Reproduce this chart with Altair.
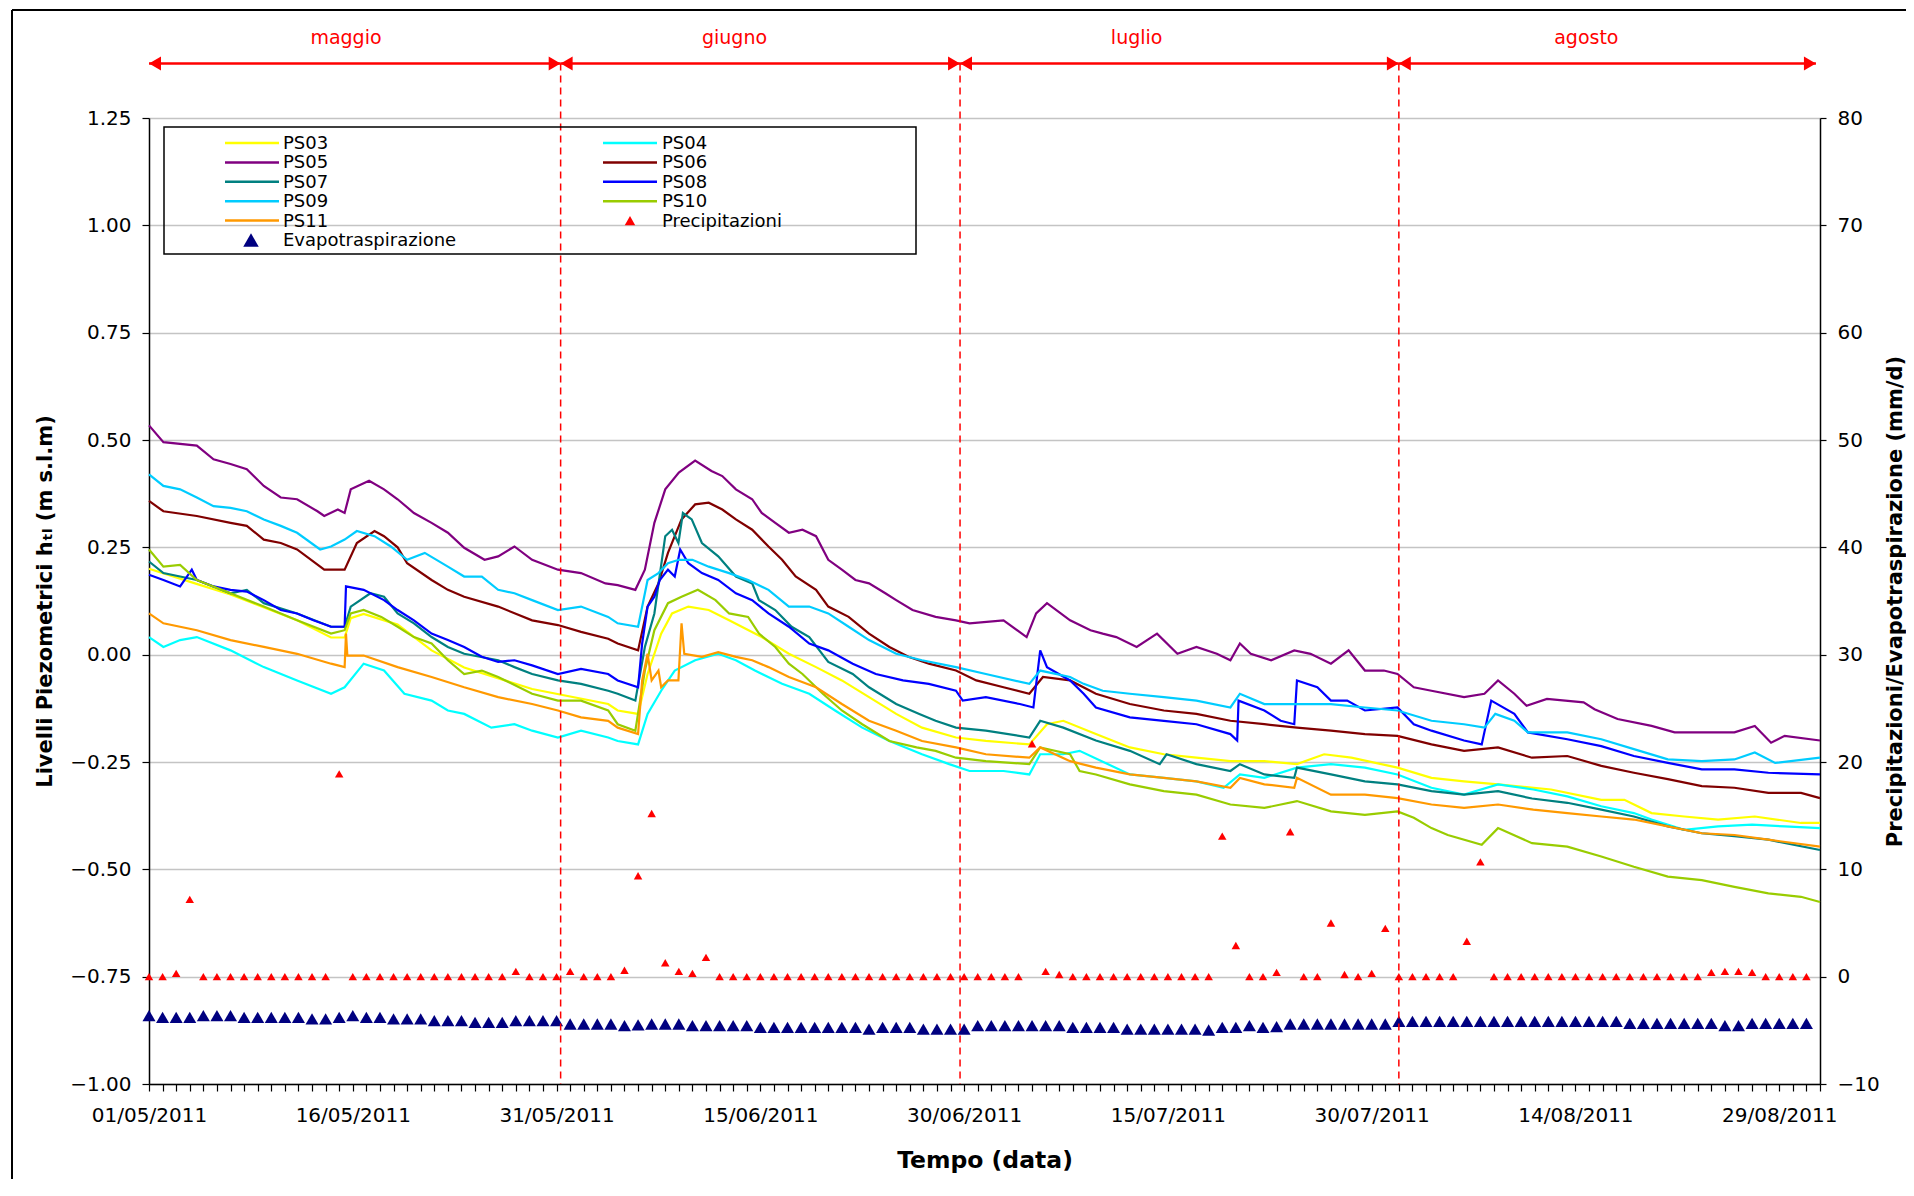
import altair as alt
import pandas as pd

DAY_MS = 86400000
T0_MS = int(pd.Timestamp("2011-05-01", tz="UTC").value // 1_000_000)
N_DAYS = 123

SERIES = ["PS03", "PS04", "PS05", "PS06", "PS07", "PS08", "PS09", "PS10", "PS11"]
COLORS = ["#FFFF00", "#00FFFF", "#800080", "#800000", "#008080", "#0000FF", "#00CCFF", "#99CC00", "#FF9900"]

# (day offset from 01/05/2011, level m s.l.m.)
PS03 = [(0,0.2),(3.5,0.165),(6,0.14),(10.9,0.08),(13.4,0.04),(14.4,0.04),(14.85,0.085),(15.8,0.095),(18.3,0.07),(20.8,0.01),(23.2,-0.03),(28.2,-0.08),(33.8,-0.115),(34.5,-0.13),(36.0,-0.138),(36.7,-0.045),(37.7,0.049),(38.5,0.096),(39.7,0.112),(41.2,0.104),(42.7,0.08),(45.1,0.041),(47.1,0.002),(49.1,-0.029),(51.0,-0.06),(53.0,-0.099),(55.0,-0.138),(56.9,-0.17),(59.4,-0.193),(61.6,-0.201),(64.8,-0.209),(66.1,-0.162),(67.3,-0.154),(69.7,-0.185),(72.2,-0.216),(74.7,-0.232),(77.1,-0.24),(79.6,-0.248),(82.1,-0.248),(84.5,-0.255),(86.5,-0.232),(88.5,-0.24),(91.9,-0.263),(94.4,-0.287),(96.8,-0.295),(99.3,-0.302),(103.2,-0.314),(106.9,-0.338),(108.6,-0.338),(110.6,-0.369),(113.0,-0.377),(115.5,-0.384),(118.2,-0.377),(121.6,-0.392),(123,-0.392)]
PS04 = [(0,0.041),(1.06,0.018),(2.29,0.034),(3.52,0.041),(6.0,0.01),(8.45,-0.029),(10.9,-0.06),(13.4,-0.091),(14.4,-0.076),(15.8,-0.021),(17.3,-0.037),(18.8,-0.091),(20.8,-0.107),(22.0,-0.13),(23.2,-0.138),(25.2,-0.17),(26.9,-0.162),(28.2,-0.177),(30.1,-0.193),(31.8,-0.177),(33.8,-0.193),(34.5,-0.201),(36.0,-0.209),(36.7,-0.138),(37.7,-0.084),(38.7,-0.037),(40.2,-0.013),(41.9,0.002),(43.2,-0.013),(44.6,-0.037),(46.6,-0.068),(48.6,-0.091),(50.5,-0.13),(52.5,-0.17),(54.5,-0.201),(56.9,-0.232),(58.9,-0.255),(60.4,-0.271),(62.9,-0.271),(64.8,-0.279),(65.6,-0.232),(67.3,-0.232),(68.5,-0.224),(72.2,-0.279),(74.7,-0.287),(77.1,-0.295),(79.1,-0.31),(80.3,-0.279),(82.1,-0.287),(84.5,-0.263),(87.0,-0.255),(89.5,-0.263),(91.9,-0.279),(94.4,-0.31),(96.8,-0.326),(99.3,-0.302),(101.9,-0.314),(104.4,-0.33),(106.9,-0.353),(109.3,-0.369),(110.6,-0.384),(113.0,-0.408),(115.5,-0.4),(118.0,-0.396),(120.4,-0.4),(123,-0.404)]
PS05 = [(0,0.534),(1.06,0.495),(3.52,0.487),(4.75,0.455),(6.0,0.444),(7.2,0.432),(8.45,0.393),(9.7,0.366),(10.9,0.362),(12.4,0.334),(12.9,0.323),(13.9,0.338),(14.4,0.33),(14.85,0.385),(16.2,0.405),(17.3,0.385),(18.3,0.362),(19.5,0.33),(20.8,0.307),(22.0,0.284),(23.2,0.249),(24.7,0.221),(25.7,0.229),(26.9,0.252),(28.2,0.221),(30.1,0.198),(31.8,0.19),(33.6,0.166),(34.5,0.162),(35.8,0.151),(36.5,0.198),(37.2,0.307),(38.0,0.385),(39.0,0.424),(40.2,0.452),(41.4,0.428),(42.2,0.416),(43.2,0.385),(44.4,0.362),(45.1,0.33),(46.1,0.307),(47.1,0.284),(48.1,0.291),(49.1,0.276),(50.0,0.221),(51.0,0.198),(52.0,0.174),(53.0,0.166),(54.2,0.143),(55.0,0.127),(56.2,0.104),(57.9,0.088),(59.4,0.08),(60.4,0.073),(62.9,0.08),(64.6,0.041),(65.3,0.096),(66.1,0.12),(67.8,0.08),(69.3,0.057),(70.2,0.049),(71.2,0.041),(72.7,0.018),(74.2,0.049),(75.7,0.002),(77.1,0.018),(78.6,0.002),(79.6,-0.013),(80.3,0.026),(81.1,0.002),(82.6,-0.013),(84.3,0.01),(85.5,0.002),(87.0,-0.021),(88.3,0.01),(89.5,-0.037),(90.9,-0.037),(91.9,-0.045),(93.1,-0.076),(94.4,-0.084),(96.8,-0.099),(98.3,-0.091),(99.3,-0.06),(100.5,-0.091),(101.4,-0.119),(102.9,-0.103),(105.6,-0.111),(106.4,-0.127),(108.1,-0.15),(110.6,-0.166),(112.3,-0.181),(114.3,-0.181),(116.7,-0.181),(118.2,-0.166),(119.4,-0.205),(120.4,-0.189),(123,-0.2)]
PS06 = [(0,0.358),(1.06,0.334),(3.52,0.323),(6.0,0.307),(7.2,0.3),(8.45,0.268),(9.7,0.26),(10.9,0.245),(12.9,0.198),(14.4,0.198),(15.3,0.26),(16.6,0.288),(17.3,0.276),(18.3,0.25),(19.0,0.213),(20.8,0.174),(22.0,0.151),(23.2,0.135),(25.7,0.112),(28.2,0.08),(30.1,0.069),(31.8,0.053),(33.8,0.037),(34.5,0.026),(36.0,0.01),(36.7,0.112),(37.5,0.166),(38.2,0.237),(39.2,0.315),(40.2,0.35),(41.2,0.354),(42.2,0.338),(43.2,0.315),(44.4,0.291),(45.6,0.252),(46.6,0.221),(47.6,0.182),(49.1,0.151),(50.0,0.112),(51.5,0.088),(53.0,0.049),(54.5,0.018),(55.9,-0.005),(57.4,-0.021),(59.4,-0.037),(60.9,-0.06),(62.9,-0.076),(64.8,-0.091),(65.8,-0.052),(67.8,-0.06),(69.7,-0.091),(72.2,-0.115),(74.7,-0.13),(77.1,-0.138),(79.6,-0.154),(82.1,-0.162),(84.5,-0.17),(87.0,-0.177),(89.5,-0.185),(91.9,-0.189),(94.4,-0.209),(96.8,-0.224),(99.3,-0.216),(101.8,-0.24),(104.4,-0.236),(106.9,-0.259),(109.3,-0.275),(111.8,-0.29),(114.3,-0.306),(116.7,-0.31),(119.2,-0.322),(121.6,-0.322),(123,-0.334)]
PS07 = [(0,0.217),(1.06,0.19),(3.52,0.174),(6.0,0.143),(7.2,0.151),(8.45,0.12),(10.9,0.096),(13.4,0.065),(14.4,0.065),(14.85,0.112),(16.3,0.143),(17.3,0.135),(18.3,0.096),(19.5,0.073),(20.8,0.041),(22.0,0.018),(23.2,0.002),(25.7,-0.013),(26.9,-0.029),(28.2,-0.045),(30.1,-0.06),(31.8,-0.068),(33.8,-0.084),(34.5,-0.091),(35.8,-0.107),(36.5,0.018),(37.2,0.096),(38.0,0.276),(38.5,0.291),(38.97,0.26),(39.3,0.33),(39.95,0.315),(40.7,0.26),(41.9,0.229),(43.2,0.182),(44.4,0.166),(44.9,0.127),(46.1,0.104),(47.3,0.065),(48.6,0.041),(50.0,-0.017),(51.8,-0.045),(53.0,-0.076),(55.0,-0.115),(56.7,-0.138),(57.9,-0.154),(59.4,-0.17),(61.6,-0.177),(64.8,-0.193),(65.6,-0.154),(67.3,-0.17),(69.7,-0.2),(72.2,-0.224),(74.4,-0.255),(74.9,-0.232),(77.1,-0.255),(79.6,-0.271),(80.3,-0.255),(82.1,-0.279),(84.3,-0.287),(84.5,-0.263),(87.0,-0.279),(89.5,-0.295),(91.9,-0.302),(94.4,-0.318),(96.8,-0.326),(99.3,-0.318),(101.8,-0.335),(104.4,-0.345),(106.9,-0.361),(109.3,-0.377),(111.8,-0.4),(114.3,-0.416),(116.7,-0.423),(119.2,-0.431),(123,-0.455)]
PS08 = [(0,0.186),(1.06,0.174),(2.29,0.159),(3.15,0.198),(3.52,0.174),(4.75,0.159),(6.0,0.151),(7.2,0.147),(8.45,0.127),(9.7,0.104),(10.9,0.096),(12.1,0.08),(13.4,0.065),(14.4,0.065),(14.5,0.159),(15.8,0.151),(17.3,0.127),(18.3,0.104),(19.5,0.08),(20.8,0.049),(22.0,0.034),(23.2,0.018),(24.5,-0.005),(25.7,-0.017),(26.9,-0.013),(28.2,-0.025),(30.1,-0.045),(31.8,-0.033),(33.8,-0.045),(34.5,-0.06),(36.0,-0.076),(36.3,0.026),(36.7,0.112),(37.2,0.135),(37.6,0.174),(38.2,0.198),(38.7,0.182),(39.1,0.245),(39.7,0.213),(40.7,0.19),(41.9,0.174),(43.2,0.143),(44.4,0.127),(45.6,0.096),(47.1,0.065),(48.6,0.026),(50.0,0.01),(51.8,-0.021),(53.5,-0.045),(55.5,-0.06),(57.4,-0.068),(59.4,-0.084),(59.9,-0.107),(61.6,-0.099),(64.1,-0.115),(65.1,-0.123),(65.6,0.01),(66.1,-0.029),(67.8,-0.06),(68.8,-0.091),(69.7,-0.123),(72.2,-0.146),(74.7,-0.154),(77.1,-0.162),(79.6,-0.185),(80.1,-0.2),(80.2,-0.107),(82.1,-0.13),(83.3,-0.154),(84.3,-0.162),(84.5,-0.06),(86.0,-0.076),(87.0,-0.107),(88.2,-0.107),(89.5,-0.13),(91.9,-0.123),(93.1,-0.162),(94.4,-0.177),(96.8,-0.2),(98.1,-0.209),(98.8,-0.107),(100.5,-0.138),(101.5,-0.181),(104.4,-0.197),(106.9,-0.213),(109.3,-0.236),(111.8,-0.252),(114.3,-0.267),(116.7,-0.267),(119.2,-0.275),(123,-0.279)]
PS09 = [(0,0.42),(1.06,0.393),(2.29,0.385),(3.52,0.366),(4.75,0.346),(6.0,0.342),(7.2,0.334),(8.45,0.315),(9.7,0.3),(10.9,0.284),(12.6,0.245),(13.4,0.252),(14.4,0.268),(15.3,0.288),(16.6,0.276),(17.8,0.252),(19.0,0.221),(20.3,0.237),(22.0,0.205),(23.2,0.182),(24.5,0.182),(25.7,0.151),(26.9,0.143),(28.2,0.127),(30.1,0.104),(31.8,0.112),(33.8,0.088),(34.5,0.073),(36.0,0.065),(36.7,0.174),(37.5,0.19),(38.2,0.213),(39.0,0.221),(40.0,0.221),(41.2,0.205),(42.7,0.19),(44.1,0.174),(45.6,0.151),(47.1,0.112),(48.6,0.112),(50.0,0.096),(51.5,0.065),(53.0,0.034),(55.0,0.002),(56.9,-0.013),(59.4,-0.029),(61.6,-0.045),(64.8,-0.068),(65.6,-0.037),(67.8,-0.052),(68.8,-0.068),(70.2,-0.084),(72.2,-0.091),(74.7,-0.099),(77.1,-0.107),(79.6,-0.123),(80.3,-0.091),(82.1,-0.115),(84.3,-0.115),(87.0,-0.115),(89.5,-0.123),(91.9,-0.13),(94.4,-0.154),(96.8,-0.162),(98.3,-0.17),(99.1,-0.138),(100.5,-0.154),(101.5,-0.181),(104.4,-0.181),(106.9,-0.197),(109.3,-0.22),(111.8,-0.244),(114.3,-0.248),(116.7,-0.244),(118.2,-0.228),(119.7,-0.252),(123,-0.24)]
PS10 = [(0,0.245),(1.06,0.205),(2.29,0.209),(3.52,0.174),(6.0,0.143),(8.45,0.112),(10.9,0.08),(13.4,0.049),(14.4,0.057),(14.85,0.096),(15.8,0.104),(17.1,0.088),(18.3,0.065),(19.5,0.041),(20.8,0.026),(22.0,-0.013),(23.2,-0.045),(24.5,-0.037),(25.7,-0.052),(28.2,-0.091),(30.1,-0.107),(31.8,-0.107),(33.8,-0.13),(34.5,-0.162),(35.8,-0.177),(36.5,-0.037),(37.2,0.057),(38.2,0.12),(39.2,0.135),(40.4,0.151),(41.7,0.127),(42.7,0.096),(44.1,0.088),(44.9,0.049),(46.1,0.018),(47.1,-0.021),(48.1,-0.045),(49.6,-0.091),(51.0,-0.13),(52.5,-0.162),(54.5,-0.201),(56.5,-0.216),(57.9,-0.224),(59.4,-0.24),(61.6,-0.248),(64.8,-0.255),(65.6,-0.216),(67.8,-0.232),(68.5,-0.271),(69.7,-0.279),(72.2,-0.302),(74.7,-0.318),(77.1,-0.326),(79.6,-0.349),(82.1,-0.357),(84.5,-0.341),(87.0,-0.365),(89.5,-0.373),(91.9,-0.365),(93.1,-0.38),(94.4,-0.404),(95.6,-0.42),(98.1,-0.443),(99.3,-0.404),(101.8,-0.439),(104.4,-0.447),(106.9,-0.47),(109.3,-0.494),(111.8,-0.517),(114.3,-0.525),(116.7,-0.541),(119.2,-0.556),(121.6,-0.564),(123,-0.576)]
PS11 = [(0,0.096),(1.06,0.073),(3.52,0.057),(6.0,0.034),(8.45,0.018),(10.9,0.002),(13.4,-0.021),(14.4,-0.029),(14.5,0.049),(14.6,-0.002),(15.8,-0.002),(18.3,-0.029),(20.8,-0.052),(23.2,-0.076),(25.7,-0.099),(28.2,-0.115),(30.1,-0.13),(31.8,-0.146),(33.8,-0.154),(34.5,-0.17),(36.0,-0.185),(36.3,-0.06),(36.7,0.002),(37.0,-0.06),(37.5,-0.037),(37.7,-0.076),(38.2,-0.06),(38.97,-0.06),(39.2,0.073),(39.4,0.002),(40.7,-0.005),(41.9,0.006),(43.2,-0.005),(44.4,-0.013),(45.6,-0.029),(47.1,-0.052),(49.1,-0.076),(51.0,-0.115),(53.0,-0.154),(55.0,-0.177),(56.9,-0.201),(59.4,-0.216),(61.6,-0.232),(64.8,-0.24),(65.6,-0.216),(67.8,-0.248),(69.7,-0.263),(72.2,-0.279),(74.7,-0.287),(77.1,-0.295),(79.6,-0.31),(80.3,-0.287),(82.1,-0.302),(84.3,-0.31),(84.5,-0.287),(87.0,-0.326),(89.5,-0.326),(91.9,-0.334),(94.4,-0.349),(96.8,-0.357),(99.3,-0.349),(101.9,-0.361),(104.4,-0.369),(106.9,-0.377),(109.3,-0.384),(111.8,-0.4),(114.3,-0.416),(116.7,-0.42),(119.2,-0.431),(123,-0.447)]
SERIES_POINTS = [PS03, PS04, PS05, PS06, PS07, PS08, PS09, PS10, PS11]

# daily values (mm/d), day 0 = 01/05/2011
PRECIP = [0, 0, 0.3, 7.2, 0, 0, 0, 0, 0, 0,
          0, 0, 0, 0, 18.9, 0, 0, 0, 0, 0,
          0, 0, 0, 0, 0, 0, 0, 0.5, 0, 0,
          0, 0.5, 0, 0, 0, 0.6, 9.4, 15.2, 1.3, 0.5,
          0.3, 1.8, 0, 0, 0, 0, 0, 0, 0, 0,
          0, 0, 0, 0, 0, 0, 0, 0, 0, 0,
          0, 0, 0, 0, 0, 21.7, 0.5, 0.2, 0, 0,
          0, 0, 0, 0, 0, 0, 0, 0, 0, 13.1,
          2.9, 0, 0, 0.4, 13.5, 0, 0, 5.0, 0.2, 0,
          0.3, 4.5, 0, 0, 0, 0, 0, 3.3, 10.7, 0,
          0, 0, 0, 0, 0, 0, 0, 0, 0, 0,
          0, 0, 0, 0, 0, 0.4, 0.5, 0.5, 0.4, 0,
          0, 0, 0]
EVAP = [-3.63, -3.79, -3.79, -3.79, -3.63, -3.63, -3.63, -3.79, -3.79, -3.79,
        -3.79, -3.79, -3.94, -3.94, -3.79, -3.63, -3.79, -3.79, -3.94, -3.94,
        -3.94, -4.10, -4.10, -4.10, -4.25, -4.25, -4.25, -4.10, -4.10, -4.10,
        -4.10, -4.41, -4.41, -4.41, -4.41, -4.57, -4.50, -4.41, -4.41, -4.41,
        -4.57, -4.57, -4.57, -4.57, -4.57, -4.72, -4.72, -4.72, -4.72, -4.72,
        -4.72, -4.72, -4.72, -4.88, -4.72, -4.72, -4.72, -4.88, -4.88, -4.88,
        -4.88, -4.57, -4.57, -4.57, -4.57, -4.57, -4.57, -4.57, -4.72, -4.72,
        -4.72, -4.72, -4.88, -4.88, -4.88, -4.88, -4.88, -4.88, -4.97, -4.72,
        -4.72, -4.57, -4.72, -4.66, -4.41, -4.41, -4.41, -4.41, -4.41, -4.41,
        -4.41, -4.41, -4.16, -4.16, -4.16, -4.16, -4.16, -4.16, -4.16, -4.16,
        -4.16, -4.16, -4.16, -4.16, -4.16, -4.16, -4.16, -4.16, -4.16, -4.35,
        -4.35, -4.35, -4.35, -4.35, -4.35, -4.35, -4.57, -4.57, -4.35, -4.35,
        -4.35, -4.35, -4.35]

MONTH_NAMES = ["maggio", "giugno", "luglio", "agosto"]
MONTH_BOUNDS = [0, 30.3, 59.7, 92.0, 122.7]
MONTH_LABEL_DAYS = [14.5, 43.1, 72.7, 105.8]

LEFT_TICKS = [-1.0, -0.75, -0.5, -0.25, 0.0, 0.25, 0.5, 0.75, 1.0, 1.25]
RIGHT_TICKS = [-10, 0, 10, 20, 30, 40, 50, 60, 70, 80]

W, H = 1671, 966
FONT = "DejaVu Sans"


def ms(d):
    return T0_MS + d * DAY_MS


line_rows = []
for name, pts in zip(SERIES, SERIES_POINTS):
    for d, v in pts:
        line_rows.append({"serie": name, "t": ms(d), "v": v})
lines_df = pd.DataFrame(line_rows)

daily_df = pd.DataFrame({"t": [ms(i) for i in range(len(PRECIP))], "precip": PRECIP, "evap": EVAP})

months_df = pd.DataFrame({
    "start": [ms(MONTH_BOUNDS[i]) for i in range(4)],
    "end": [ms(MONTH_BOUNDS[i + 1]) for i in range(4)],
    "mid": [ms(d) for d in MONTH_LABEL_DAYS],
    "name": MONTH_NAMES,
})
dividers_df = pd.DataFrame({"t": [ms(d) for d in MONTH_BOUNDS[1:4]]})
ONE = pd.DataFrame({"k": [0]})

X_SCALE = alt.Scale(type="utc", domain=[ms(0), ms(N_DAYS)], nice=False)
X_AXIS = alt.Axis(
    values=[ms(i) for i in range(N_DAYS + 1)],
    labelExpr=f"(round((time(datum.value) - {T0_MS}) / {DAY_MS}) % 15 == 0) ? utcFormat(datum.value, '%d/%m/%Y') : ''",
    labelOverlap=False, labelFlush=False, grid=False,
    tickSize=7, tickWidth=1.2, tickColor="black",
    domainColor="black", domainWidth=1.5,
    labelFontSize=20, labelPadding=14, labelColor="black", labelFont=FONT,
    titleFontSize=23.5, titleFontWeight="bold", titlePadding=23, titleColor="black", titleFont=FONT,
)


def xenc(field):
    return alt.X(f"{field}:T", scale=X_SCALE, axis=X_AXIS, title="Tempo (data)")


Y_LEFT_SCALE = alt.Scale(domain=[-1.0, 1.25], nice=False, zero=False)
Y_LEFT_AXIS = alt.Axis(
    orient="left", values=LEFT_TICKS, format=".2f",
    grid=True, gridColor="#c4c4c4", gridWidth=1.5,
    tickSize=7, tickWidth=1.2, tickColor="black", domainColor="black", domainWidth=1.5,
    labelFontSize=20, labelPadding=11, labelColor="black", labelFont=FONT,
    titleFontSize=21, titleFontWeight="bold", titlePadding=14, titleAngle=270, titleColor="black", titleFont=FONT,
)
Y_RIGHT_SCALE = alt.Scale(domain=[-10, 80], nice=False, zero=False)
Y_RIGHT_AXIS = alt.Axis(
    orient="right", values=RIGHT_TICKS, format="d", grid=False,
    tickSize=6, tickWidth=1.2, tickColor="black", domainColor="black", domainWidth=1.5,
    labelFontSize=20, labelPadding=11, labelColor="black", labelFont=FONT,
    titleFontSize=21, titleFontWeight="bold", titlePadding=26, titleAngle=270, titleColor="black", titleFont=FONT,
)
RIGHT_TITLE = "Precipitazioni/Evapotraspirazione (mm/d)"

lines = alt.Chart(lines_df).mark_line(strokeWidth=2.2).encode(
    x=xenc("t"),
    y=alt.Y("v:Q", scale=Y_LEFT_SCALE, axis=Y_LEFT_AXIS, title="Livelli Piezometrici hₜₗ (m s.l.m)"),
    color=alt.Color("serie:N", scale=alt.Scale(domain=SERIES, range=COLORS), legend=None),
    order=alt.Order("t:Q"),
)

evap = alt.Chart(daily_df).mark_point(shape="triangle-up", filled=True, size=170, color="#000080", opacity=1).encode(
    x=xenc("t"),
    y=alt.Y("evap:Q", scale=Y_RIGHT_SCALE, axis=Y_RIGHT_AXIS, title=RIGHT_TITLE),
)
precip = alt.Chart(daily_df).mark_point(shape="triangle-up", filled=True, size=72, color="#FF0000", opacity=1).encode(
    x=xenc("t"),
    y=alt.Y("precip:Q", scale=Y_RIGHT_SCALE, axis=Y_RIGHT_AXIS, title=RIGHT_TITLE),
)
right = alt.layer(evap, precip)

ARROW_Y = -54.5
arrows = alt.Chart(months_df).mark_rule(color="#FF0000", strokeWidth=2.5).encode(
    x=xenc("start"), x2="end:T", y=alt.value(ARROW_Y))
heads_l = alt.Chart(months_df).mark_point(shape="triangle-left", filled=True, size=190, color="#FF0000",
                                          opacity=1, xOffset=6).encode(x=xenc("start"), y=alt.value(ARROW_Y))
heads_r = alt.Chart(months_df).mark_point(shape="triangle-right", filled=True, size=190, color="#FF0000",
                                          opacity=1, xOffset=-6).encode(x=xenc("end"), y=alt.value(ARROW_Y))
mlabels = alt.Chart(months_df).mark_text(color="#FF0000", fontSize=19, font=FONT).encode(
    x=xenc("mid"), y=alt.value(-80.5), text="name:N")
dividers = alt.Chart(dividers_df).mark_rule(color="#FF0000", strokeDash=[7, 5], strokeWidth=1.5).encode(
    x=xenc("t"), y=alt.value(ARROW_Y), y2=alt.value(H))

border_left = alt.Chart(ONE).mark_rule(color="black", strokeWidth=2).encode(
    x=alt.value(-137), y=alt.value(-108), y2=alt.value(H + 200))
border_top = alt.Chart(ONE).mark_rule(color="black", strokeWidth=2).encode(
    x=alt.value(-137), x2=alt.value(W + 200), y=alt.value(-108))

# hand-built legend box (two columns)
LEG_NAMES = SERIES + ["Precipitazioni", "Evapotraspirazione"]
LEG_COLORS = COLORS + ["#FF0000", "#000080"]
legend_layers = [
    alt.Chart(ONE).mark_rect(fillOpacity=0, stroke="black", strokeWidth=1.5).encode(
        x=alt.value(15), x2=alt.value(767), y=alt.value(9), y2=alt.value(136))
]
for i, (nm, col) in enumerate(zip(LEG_NAMES, LEG_COLORS)):
    c, r = i % 2, i // 2
    y = 25 + r * 19.4
    x_line0 = 76 if c == 0 else 454
    x_text = 134 if c == 0 else 513
    if nm == "Precipitazioni":
        sym = alt.Chart(ONE).mark_point(shape="triangle-up", filled=True, size=110, color=col, opacity=1).encode(
            x=alt.value(x_line0 + 27), y=alt.value(y))
    elif nm == "Evapotraspirazione":
        sym = alt.Chart(ONE).mark_point(shape="triangle-up", filled=True, size=240, color=col, opacity=1).encode(
            x=alt.value(x_line0 + 26), y=alt.value(y))
    else:
        sym = alt.Chart(ONE).mark_rule(color=col, strokeWidth=2.5).encode(
            x=alt.value(x_line0), x2=alt.value(x_line0 + 54), y=alt.value(y))
    txt = alt.Chart(ONE).mark_text(text=nm, align="left", baseline="middle", fontSize=18, font=FONT,
                                   color="black").encode(x=alt.value(x_text), y=alt.value(y + 1))
    legend_layers += [sym, txt]

chart = alt.layer(
    lines, right, dividers, arrows, heads_l, heads_r, mlabels, border_left, border_top, *legend_layers
).resolve_scale(y="independent").properties(
    width=W, height=H,
    autosize=alt.AutoSizeParams(type="none"),
    padding={"left": 141, "top": 110, "right": 86, "bottom": 95},
    background="white",
).configure_view(stroke="black", strokeWidth=1.5).configure(font=FONT)

chart.save("out.html", embed_options={"renderer": "svg", "actions": False})
